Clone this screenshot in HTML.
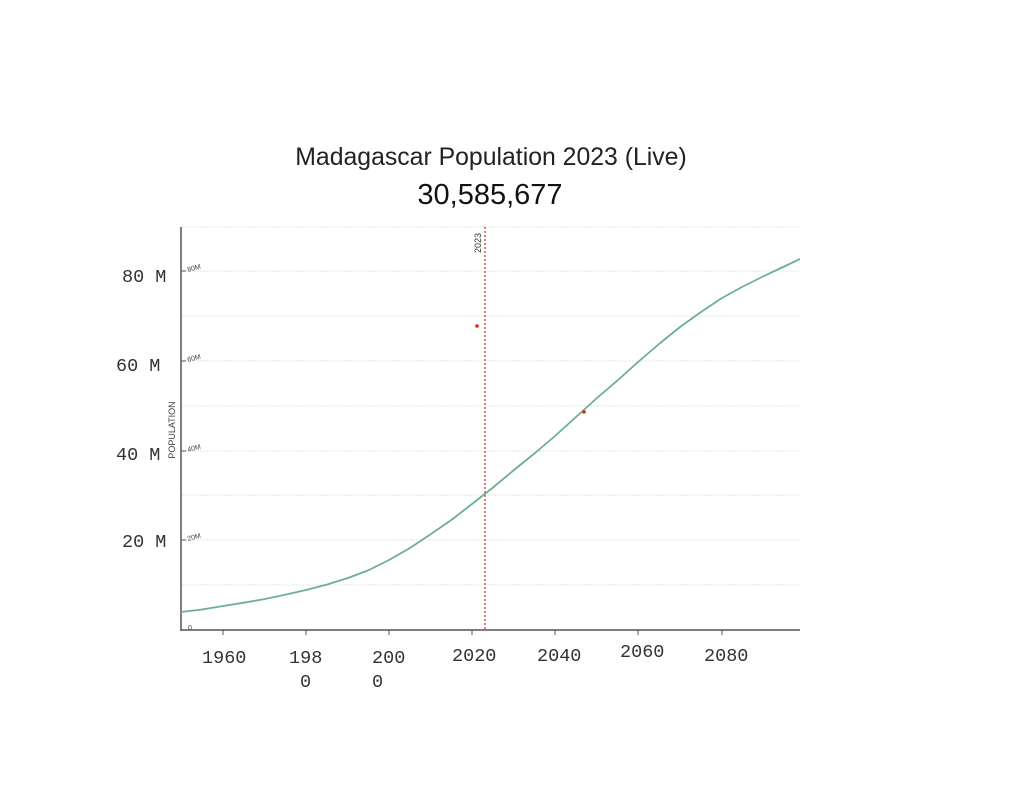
<!DOCTYPE html>
<html><head><meta charset="utf-8"><style>
html,body{margin:0;padding:0;background:#fff;}
svg{display:block;}
</style></head><body>
<svg width="1024" height="791" viewBox="0 0 1024 791" xmlns="http://www.w3.org/2000/svg">
<rect width="1024" height="791" fill="#fff"/>
<text x="491" y="165" text-anchor="middle" font-family="Liberation Sans, sans-serif" font-size="24.8" fill="#222">Madagascar Population 2023 (Live)</text>
<text x="490" y="204" text-anchor="middle" font-family="Liberation Sans, sans-serif" font-size="29" fill="#111">30,585,677</text>
<g stroke="#e4e4e4" stroke-width="1" stroke-dasharray="2,1">
<line x1="182" y1="227" x2="800" y2="227"/>
<line x1="182" y1="271" x2="800" y2="271"/>
<line x1="182" y1="316" x2="800" y2="316"/>
<line x1="182" y1="361" x2="800" y2="361"/>
<line x1="182" y1="406" x2="800" y2="406"/>
<line x1="182" y1="451" x2="800" y2="451"/>
<line x1="182" y1="495" x2="800" y2="495"/>
<line x1="182" y1="540" x2="800" y2="540"/>
<line x1="182" y1="585" x2="800" y2="585"/>
</g>
<line x1="181" y1="227" x2="181" y2="631" stroke="#555" stroke-width="1.5"/>
<line x1="181" y1="630" x2="800" y2="630" stroke="#555" stroke-width="1.5"/>
<g stroke="#555" stroke-width="1">
<line x1="223" y1="630" x2="223" y2="635"/><line x1="306" y1="630" x2="306" y2="635"/>
<line x1="389" y1="630" x2="389" y2="635"/><line x1="472" y1="630" x2="472" y2="635"/>
<line x1="555" y1="630" x2="555" y2="635"/><line x1="638" y1="630" x2="638" y2="635"/>
<line x1="722" y1="630" x2="722" y2="635"/>
<line x1="181" y1="271" x2="186" y2="271"/><line x1="181" y1="361" x2="186" y2="361"/>
<line x1="181" y1="451" x2="186" y2="451"/><line x1="181" y1="540" x2="186" y2="540"/>
</g>
<g font-family="Liberation Sans, sans-serif" font-size="7" fill="#444">
<text x="188" y="272" transform="rotate(-15 188 272)">80M</text>
<text x="188" y="362" transform="rotate(-15 188 362)">60M</text>
<text x="188" y="452" transform="rotate(-15 188 452)">40M</text>
<text x="188" y="541" transform="rotate(-15 188 541)">20M</text>
<text x="188" y="630">0</text>
</g>
<text x="175" y="430" transform="rotate(-90 175 430)" text-anchor="middle" font-family="Liberation Sans, sans-serif" font-size="9" fill="#444">POPULATION</text>
<line x1="485" y1="227" x2="485" y2="630" stroke="#d9534f" stroke-width="1.5" stroke-dasharray="2,2"/>
<text x="481" y="243" transform="rotate(-90 481 243)" text-anchor="middle" font-family="Liberation Sans, sans-serif" font-size="9" fill="#333">2023</text>
<polyline points="181,612 202,609.5 223,606 244,602.7 265,599 285,594.8 306,590 327,584.5 348,578 369,570 389,560 410,548 431,534 452,519.5 472,504 493,487.5 514,470 535,453 555,436 576,417 597,398 618,380 638,362 659,344 680,327 701,312 722,298 742,287 762,277 781,268 800,259" fill="none" stroke="#6dae98" stroke-width="1.8" stroke-linejoin="round"/>
<circle cx="477" cy="326" r="1.8" fill="#d22"/>
<circle cx="584" cy="412" r="1.8" fill="#d22"/>
<g font-family="Liberation Mono, monospace" font-size="18.5" fill="#333">
<text x="122" y="282">80 M</text>
<text x="116" y="371">60 M</text>
<text x="116" y="460">40 M</text>
<text x="122" y="547">20 M</text>
<text x="202" y="663">1960</text>
<text x="289" y="663">198</text><text x="300" y="687">0</text>
<text x="372" y="663">200</text><text x="372" y="687">0</text>
<text x="452" y="661">2020</text>
<text x="537" y="661">2040</text>
<text x="620" y="657">2060</text>
<text x="704" y="661">2080</text>
</g>
</svg>
</body></html>
